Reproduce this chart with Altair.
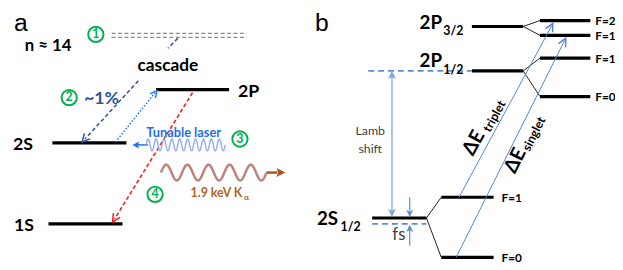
import altair as alt
import pandas as pd
import math

# ---------------- data (diagram frame = page pixels) ----------------
# energy levels: x start, x end, y
level_x1 = [158, 53, 49, 478, 478, 547, 547, 547, 547, 377, 447, 447]
level_x2 = [232, 128, 124, 530, 530, 598, 598, 598, 598, 432, 500, 500]
level_y = [89, 143, 225, 25, 70, 19, 34, 57, 96, 219, 198, 259]

# hyperfine splitting connectors (from parent level end to sub-level start)
split_x1 = [530, 530, 530, 530, 432, 432]
split_y1 = [25, 25, 70, 70, 219, 219]
split_x2 = [547, 547, 547, 547, 447, 447]
split_y2 = [19, 34, 57, 96, 198, 259]

# other line segments: x1, y1, x2, y2, colour, width, dash style
seg_x1 = [113, 113, 180, 140, 117, 195, 150, 270, 373, 397, 377, 415, 415, 465, 462]
seg_y1 = [32, 36, 37, 80, 142, 92, 145, 173, 70, 76, 225, 198, 247, 198, 259]
seg_x2 = [250, 250, 170, 86, 157, 116, 139, 281, 478, 397, 432, 415, 415, 559, 572]
seg_y2 = [32, 36, 47, 139, 92, 220, 145, 173, 70, 212, 225, 212, 232, 24, 39]
seg_col = ["#8a8a8a", "#8a8a8a", "#2F5597", "#2F5597", "#2E7BEA", "#FF1A1A", "#1F6FE8",
           "#A5581B", "#5B8DD6", "#8EB4E3", "#5B8DD6", "#5B8DD6", "#5B8DD6", "#4F87D8", "#4F87D8"]
seg_w = [1.2, 1.2, 1.5, 1.5, 1.6, 1.6, 1.5, 2.5, 1.6, 1.5, 1.6, 1.2, 1.2, 1, 1]
seg_style = ["dash", "dash", "dash", "dash", "dot", "dash", "solid", "solid", "ldash",
             "solid", "ldash", "solid", "solid", "solid", "solid"]

# arrow heads: tip, and the point they come from
arr_tx = [83, 159, 114, 134, 289, 397, 397, 415, 415, 560, 573]
arr_ty = [142, 90, 223, 145, 173, 70, 218, 218, 226, 22, 37]
arr_fx = [140, 117, 195, 150, 270, 397, 397, 415, 415, 465, 462]
arr_fy = [80, 142, 92, 145, 173, 140, 140, 198, 247, 198, 259]
arr_col = ["#2F5597", "#2E7BEA", "#FF1A1A", "#1F6FE8", "#A5581B", "#7FA7DD", "#7FA7DD",
           "#5B8DD6", "#5B8DD6", "#4F87D8", "#4F87D8"]
arr_len = [8, 7, 8, 7, 9, 8, 8, 7, 7, 8, 8]
arr_open = [True, True, True, False, False, False, False, False, False, True, True]

# numbered step markers
step_num = ["1", "2", "3", "4"]
step_x = [97, 70, 243, 157]
step_y = [33, 97, 139, 195]

# waves: x start, x end, centre y, amplitude, periods
wave_x0 = [148, 163]
wave_x1 = [228, 270]
wave_yc = [145, 173]
wave_amp = [6, 8]
wave_per = [10, 5]

# texts: text, x, y, size, colour, weight, align, baseline, angle, font
texts = [
    ("a", 21, 30, 25, "#000000", "normal", "center", "alphabetic", 0, "Liberation Sans"),
    ("b", 326, 30, 25, "#000000", "normal", "center", "alphabetic", 0, "Liberation Sans"),
    ("n ≈ 14", 25, 50, 17, "#000000", "bold", "left", "alphabetic", 0, "Lato"),
    ("cascade", 170, 70, 17.5, "#000000", "bold", "center", "alphabetic", 0, "Lato"),
    ("~1%", 85, 104, 18, "#2F5597", "bold", "left", "alphabetic", 0, "Lato"),
    ("2P", 241, 96, 18, "#000000", "bold", "left", "alphabetic", 0, "Lato"),
    ("2S", 13, 150, 18, "#000000", "bold", "left", "alphabetic", 0, "Lato"),
    ("1S", 14, 232, 18, "#000000", "bold", "left", "alphabetic", 0, "Lato"),
    ("Tunable laser", 148, 137, 13, "#1F6FE8", "bold", "left", "alphabetic", 0, "Lato"),
    ("1.9 keV K", 193, 198, 12.5, "#B4641E", "bold", "left", "alphabetic", 0, "Lato"),
    ("α", 247, 201, 8.5, "#B4641E", "bold", "left", "alphabetic", 0, "Lato"),
    ("2P", 425, 28, 19, "#000000", "bold", "left", "alphabetic", 0, "Lato"),
    ("3/2", 449, 34, 12.5, "#000000", "bold", "left", "alphabetic", 0, "Lato"),
    ("2P", 425, 66, 19, "#000000", "bold", "left", "alphabetic", 0, "Lato"),
    ("1/2", 449, 73, 12.5, "#000000", "bold", "left", "alphabetic", 0, "Lato"),
    ("2S", 321, 226, 19, "#000000", "bold", "left", "alphabetic", 0, "Lato"),
    ("1/2", 345, 232, 12.5, "#000000", "bold", "left", "alphabetic", 0, "Lato"),
    ("Lamb", 375, 135, 12.5, "#404040", "normal", "center", "alphabetic", 0, "Lato"),
    ("shift", 375, 153, 12.5, "#404040", "normal", "center", "alphabetic", 0, "Lato"),
    ("fs", 404, 241, 17, "#404040", "normal", "center", "alphabetic", 0, "Lato"),
    ("F=2", 603, 24, 12, "#000000", "bold", "left", "alphabetic", 0, "Lato"),
    ("F=1", 603, 39, 12, "#000000", "bold", "left", "alphabetic", 0, "Lato"),
    ("F=1", 603, 62, 12, "#000000", "bold", "left", "alphabetic", 0, "Lato"),
    ("F=0", 603, 101, 12, "#000000", "bold", "left", "alphabetic", 0, "Lato"),
    ("F=1", 508, 203, 12, "#000000", "bold", "left", "alphabetic", 0, "Lato"),
    ("F=0", 508, 264, 12, "#000000", "bold", "left", "alphabetic", 0, "Lato"),
    ("ΔE", 480, 143, 20, "#000000", "bold", "center", "middle", 298.5, "Lato"),
    ("triplet", 501, 116, 12.5, "#000000", "bold", "center", "middle", 298.5, "Lato"),
    ("ΔE", 522, 161, 20, "#000000", "bold", "center", "middle", 296.6, "Lato"),
    ("singlet", 541, 134, 12.5, "#000000", "bold", "center", "middle", 296.6, "Lato"),
]

# ---------------- scales ----------------
W, H = 615, 262
xs = alt.Scale(domain=[8, 8 + W], nice=False, zero=False)
ys = alt.Scale(domain=[8, 8 + H], nice=False, zero=False, reverse=True)


def X(f):
    return alt.X(f, scale=xs, axis=None)


def Y(f):
    return alt.Y(f, scale=ys, axis=None)


layers = []

# thick energy levels
lev = pd.DataFrame({"x1": level_x1, "x2": level_x2, "y": level_y})
layers.append(alt.Chart(lev).mark_rule(color="black", strokeWidth=3.2, strokeCap="butt").encode(
    x=X("x1:Q"), x2="x2:Q", y=Y("y:Q")))

# splits
spl = pd.DataFrame({"x1": split_x1, "y1": split_y1, "x2": split_x2, "y2": split_y2})
layers.append(alt.Chart(spl).mark_rule(color="#222222", strokeWidth=1).encode(
    x=X("x1:Q"), y=Y("y1:Q"), x2="x2:Q", y2="y2:Q"))

# segments
seg = pd.DataFrame({"x1": seg_x1, "y1": seg_y1, "x2": seg_x2, "y2": seg_y2,
                    "c": seg_col, "w": seg_w, "s": seg_style})
dashes = {"solid": None, "dash": [4, 2.5], "dot": [1.5, 1.8], "ldash": [6, 4]}
for key, d in dashes.items():
    kw = {"strokeCap": "butt"}
    if d is not None:
        kw["strokeDash"] = d
    layers.append(alt.Chart(seg).transform_filter(alt.datum.s == key).mark_rule(**kw).encode(
        x=X("x1:Q"), y=Y("y1:Q"), x2="x2:Q", y2="y2:Q",
        color=alt.Color("c:N", scale=None), strokeWidth=alt.StrokeWidth("w:Q", scale=None)))

# waves
wave_style = [("#8AA6F2", 1.5, 0.9), ("#B06E66", 2.5, 0.85)]
for i in range(2):
    col, sw, op = wave_style[i]
    expr_x = f"{wave_x0[i]} + ({wave_x1[i]} - {wave_x0[i]}) * datum.t"
    expr_y = f"{wave_yc[i]} - {wave_amp[i]} * sin(2 * PI * {wave_per[i]} * datum.t)"
    layers.append(alt.Chart(alt.sequence(0, 1.0001, 0.002, as_="t")).transform_calculate(
        x=expr_x, y=expr_y).mark_line(color=col, strokeWidth=sw, opacity=op).encode(
        x=X("x:Q"), y=Y("y:Q"), order="t:Q"))

# arrow heads
ang = [(math.degrees(math.atan2(tx - fx, -(ty - fy))) + 360) % 360
       for tx, ty, fx, fy in zip(arr_tx, arr_ty, arr_fx, arr_fy)]
arr = pd.DataFrame({"x": arr_tx, "y": arr_ty, "a": ang, "c": arr_col,
                    "sz": [(2 * L) ** 2 for L in arr_len], "o": arr_open})
closed_path = "M0,0 L0.5,1 L0,0.8 L-0.5,1 Z"
open_path = "M-0.5,1 L0,0 L0.5,1"
layers.append(alt.Chart(arr).transform_filter(alt.datum.o == False).mark_point(
    shape=closed_path, filled=True, opacity=1).encode(
    x=X("x:Q"), y=Y("y:Q"), angle=alt.Angle("a:Q", scale=None),
    color=alt.Color("c:N", scale=None), size=alt.Size("sz:Q", scale=None)))
layers.append(alt.Chart(arr).transform_filter(alt.datum.o == True).mark_point(
    shape=open_path, filled=False, strokeWidth=1.5, opacity=1).encode(
    x=X("x:Q"), y=Y("y:Q"), angle=alt.Angle("a:Q", scale=None),
    color=alt.Color("c:N", scale=None), size=alt.Size("sz:Q", scale=None)))

# step circles
stp = pd.DataFrame({"t": step_num, "x": step_x, "y": step_y})
layers.append(alt.Chart(stp).mark_point(shape="circle", size=240, filled=False, color="#00B050",
                                        strokeWidth=2, opacity=1).encode(x=X("x:Q"), y=Y("y:Q")))
layers.append(alt.Chart(stp).mark_text(color="#00B050", font="Lato", fontWeight="bold", fontSize=12.5,
                                       baseline="middle", align="center").encode(
    x=X("x:Q"), y=Y("y:Q"), text="t:N"))

# texts
tdf = pd.DataFrame(texts, columns=["t", "x", "y", "s", "c", "w", "al", "bl", "a", "f"])
groups = tdf.groupby(["w", "al", "bl", "f"]).size().index
for w, al, bl, f in groups:
    sub = tdf[(tdf.w == w) & (tdf.al == al) & (tdf.bl == bl) & (tdf.f == f)]
    layers.append(alt.Chart(sub).mark_text(font=f, fontWeight=w, align=al, baseline=bl).encode(
        x=X("x:Q"), y=Y("y:Q"), text="t:N", size=alt.Size("s:Q", scale=None),
        color=alt.Color("c:N", scale=None), angle=alt.Angle("a:Q", scale=None)))

chart = alt.layer(*layers).properties(
    width=W, height=H, padding=0, autosize=alt.AutoSizeParams(type="none"),
    background="white").configure_view(stroke=None)

chart.save("out.html", embed_options={"renderer": "svg", "actions": False})
